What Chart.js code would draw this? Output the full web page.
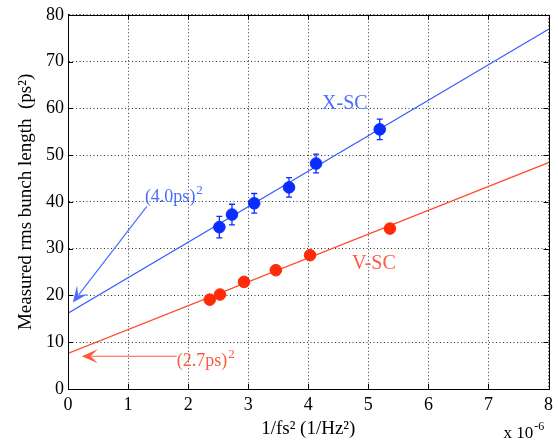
<!DOCTYPE html>
<html>
<head>
<meta charset="utf-8">
<script src="https://cdn.jsdelivr.net/npm/chart.js@4.4.0/dist/chart.umd.min.js"></script>
<style>
html, body { margin: 0; padding: 0; background: #fff; }
</style>
</head>
<body>
<canvas id="graph1" width="558" height="443"></canvas>
<script>
// X-SC measurements (with error bars) and V-SC measurements
const xscX = [2.52, 2.73, 3.10, 3.68, 4.13, 5.19];
const xscY = [34.6, 37.3, 39.7, 43.1, 48.2, 55.5];
const xscErr = [2.3, 2.2, 2.1, 2.1, 2.0, 2.2];
const vscX = [2.36, 2.53, 2.93, 3.46, 4.03, 5.36];
const vscY = [19.1, 20.2, 22.9, 25.4, 28.6, 34.3];

// linear fits, read at both ends of the x axis
const fitX = [0, 8];
const xscFitY = [16.2, 76.9];
const vscFitY = [7.6, 48.4];

const blueMark = '#0a2cff';
const blueLine = '#3a5cff';
const blueText = '#4a6cff';
const redMark = '#ff2a08';
const redLine = '#ff4a2a';
const redText = '#ff5a40';
const serif = 'Liberation Serif';

function pts(xs, ys) {
    return xs.map((v, i) => ({ x: v, y: ys[i] }));
}

function supText(ctx, base, sup, x, y, size, color) {
    ctx.fillStyle = color;
    ctx.textAlign = 'left';
    ctx.textBaseline = 'alphabetic';
    ctx.font = size + 'px "' + serif + '"';
    ctx.fillText(base, x, y);
    const w = ctx.measureText(base).width;
    ctx.font = Math.round(size * 0.72) + 'px "' + serif + '"';
    ctx.fillText(sup, x + w + 1, y - size * 0.45);
}

function arrow(ctx, x1, y1, x2, y2, color) {
    const ang = Math.atan2(y2 - y1, x2 - x1);
    const len = 16, half = 7;
    const c = Math.cos(ang), s = Math.sin(ang);
    ctx.strokeStyle = color;
    ctx.fillStyle = color;
    ctx.lineWidth = 1.2;
    ctx.beginPath();
    ctx.moveTo(x1, y1);
    ctx.lineTo(x2 - c * len * 0.6, y2 - s * len * 0.6);
    ctx.stroke();
    ctx.beginPath();
    ctx.moveTo(x2, y2);
    ctx.lineTo(x2 - c * len + s * half, y2 - s * len - c * half);
    ctx.lineTo(x2 - c * len * 0.55, y2 - s * len * 0.55);
    ctx.lineTo(x2 - c * len - s * half, y2 - s * len + c * half);
    ctx.closePath();
    ctx.fill();
}

const extras = {
    id: 'extras',
    beforeDatasetsDraw(chart) {
        const { ctx, scales: { x, y } } = chart;
        ctx.save();
        ctx.strokeStyle = blueMark;
        ctx.lineWidth = 1.3;
        xscX.forEach((v, i) => {
            const px = x.getPixelForValue(v);
            const y1 = y.getPixelForValue(xscY[i] - xscErr[i]);
            const y2 = y.getPixelForValue(xscY[i] + xscErr[i]);
            ctx.beginPath();
            ctx.moveTo(px, y1); ctx.lineTo(px, y2);
            ctx.moveTo(px - 3, y1); ctx.lineTo(px + 3, y1);
            ctx.moveTo(px - 3, y2); ctx.lineTo(px + 3, y2);
            ctx.stroke();
        });
        ctx.restore();
    },
    afterDraw(chart) {
        const { ctx, chartArea: a, scales: { x, y } } = chart;
        ctx.save();
        ctx.setLineDash([]);
        // box and inside ticks
        ctx.strokeStyle = '#000';
        ctx.lineWidth = 1;
        ctx.strokeRect(Math.round(a.left) + 0.5, Math.round(a.top) + 0.5, Math.round(a.width), Math.round(a.height));
        ctx.beginPath();
        for (let v = 0; v <= 8; v++) {
            const px = Math.round(x.getPixelForValue(v)) + 0.5;
            ctx.moveTo(px, a.bottom); ctx.lineTo(px, a.bottom - 5);
            ctx.moveTo(px, a.top); ctx.lineTo(px, a.top + 5);
        }
        for (let v = 0; v <= 80; v += 10) {
            const py = Math.round(y.getPixelForValue(v)) + 0.5;
            ctx.moveTo(a.left, py); ctx.lineTo(a.left + 5, py);
            ctx.moveTo(a.right, py); ctx.lineTo(a.right - 5, py);
        }
        ctx.stroke();

        // annotations
        arrow(ctx, x.getPixelForValue(1.31), y.getPixelForValue(39.0),
              x.getPixelForValue(0.08), y.getPixelForValue(18.5), blueText);
        arrow(ctx, x.getPixelForValue(1.81), y.getPixelForValue(7.0),
              x.getPixelForValue(0.23), y.getPixelForValue(7.0), redText);
        supText(ctx, '(4.0ps)', '2', x.getPixelForValue(1.28), y.getPixelForValue(39.9), 18, blueText);
        supText(ctx, '(2.7ps)', '2', x.getPixelForValue(1.81), y.getPixelForValue(4.9), 18, redText);

        ctx.font = '20px "' + serif + '"';
        ctx.textAlign = 'left';
        ctx.fillStyle = blueText;
        ctx.fillText('X-SC', x.getPixelForValue(4.23), y.getPixelForValue(59.8));
        ctx.fillStyle = redText;
        ctx.fillText('V-SC', x.getPixelForValue(4.73), y.getPixelForValue(25.7));

        // exponent of the x axis
        supText(ctx, 'x 10', '-6', a.right - 45, 438, 17, '#000');
        ctx.restore();
    }
};

const tickFont = { family: serif, size: 18 };

new Chart(document.querySelector('#graph1'), {
    type: 'scatter',
    data: {
        datasets: [
            {
                label: 'X-SC',
                data: pts(xscX, xscY),
                backgroundColor: blueMark,
                borderColor: blueMark,
                pointRadius: 5.8,
                pointHoverRadius: 5.8
            },
            {
                label: 'V-SC',
                data: pts(vscX, vscY),
                backgroundColor: redMark,
                borderColor: redMark,
                pointRadius: 5.8,
                pointHoverRadius: 5.8
            },
            {
                label: 'X-SC fit',
                data: pts(fitX, xscFitY),
                showLine: true,
                borderColor: blueLine,
                borderWidth: 1.2,
                pointRadius: 0
            },
            {
                label: 'V-SC fit',
                data: pts(fitX, vscFitY),
                showLine: true,
                borderColor: redLine,
                borderWidth: 1.2,
                pointRadius: 0
            }
        ]
    },
    options: {
        responsive: false,
        animation: false,
        layout: { padding: { left: 0, right: 8, top: 12, bottom: 0 } },
        plugins: {
            legend: { display: false },
            tooltip: { enabled: false }
        },
        scales: {
            x: {
                type: 'linear',
                min: 0,
                max: 8,
                afterFit(s) { s.height = 54; },
                ticks: { stepSize: 1, font: tickFont, color: '#000', padding: 5, maxRotation: 0 },
                grid: { color: '#333', lineWidth: 1, drawTicks: false },
                border: { display: true, color: '#000', dash: [1, 2.5] },
                title: {
                    display: true,
                    text: '1/fs² (1/Hz²)',
                    font: { family: serif, size: 19 },
                    color: '#000',
                    padding: { top: 0, bottom: 3 }
                }
            },
            y: {
                min: 0,
                max: 80,
                afterFit(s) { s.width = 68; },
                ticks: { stepSize: 10, font: tickFont, color: '#000', padding: 4 },
                grid: { color: '#333', lineWidth: 1, drawTicks: false },
                border: { display: true, color: '#000', dash: [1, 2.5] },
                title: {
                    display: true,
                    text: 'Measured rms bunch length  (ps²)',
                    font: { family: serif, size: 19 },
                    color: '#000',
                    padding: { top: 15, bottom: 0 }
                }
            }
        }
    },
    plugins: [extras]
});
</script>
</body>
</html>
